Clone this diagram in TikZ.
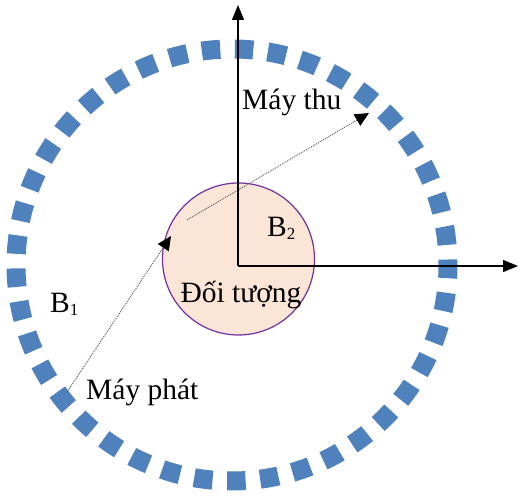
\documentclass[tikz,border=0pt]{standalone}
\usepackage{fontspec}
\setmainfont{Liberation Serif}
\usetikzlibrary{arrows.meta}
\definecolor{ringblue}{HTML}{4F81BD}
\definecolor{peach}{HTML}{FBE5D6}
\definecolor{objpurple}{HTML}{7030A0}
\tikzset{
  lbl/.style={inner sep=0pt, anchor=base west, font=\fontsize{29.5}{32}\selectfont},
  axis/.style={line width=1.3pt, -{Triangle[length=15pt,width=12pt]}},
  ray/.style={gray!80!black, line width=1pt, dash pattern=on 1pt off 1pt, -{Triangle[length=14pt,width=13pt,color=black]}},
  ring/.style={ringblue, line width=19pt, dash pattern=on 18.5pt off 14.6pt, dash phase=13pt}
}
\newcommand{\sbs}[1]{\raisebox{-0.08em}{\fontsize{17}{18}\selectfont #1}}
\begin{document}
\begin{tikzpicture}[x=1pt,y=1pt]
\useasboundingbox (0,0) rectangle (519,495);
% outer ring
\coordinate (C) at (232,230);
\draw[ring] (C) circle (216);
% object
\node[circle, draw=objpurple, line width=1.2pt, fill=peach, minimum size=152pt, inner sep=0pt] (obj) at (238.5,236) {};
% rays
\coordinate (tx) at (67,103);
\coordinate (hit) at (171,259);
\coordinate (rs) at (187,275);
\coordinate (rx) at (369,382);
\draw[ray] (tx) -- (hit);
\draw[ray] (rs) -- (rx);
% axes
\coordinate (O) at (238,229);
\coordinate (Yend) at (238,490);
\coordinate (Xend) at (518,229);
\draw[axis] (O) -- (Yend);
\draw[axis] (O) -- (Xend);
% labels
\node[lbl] (thu) at (242,385) {Máy thu};
\node[lbl] (phat) at (86,95) {Máy phát};
\node[lbl, anchor=base] (dt) at (241,192) {Đối tượng};
\node[lbl] (b2) at (267,258) {B\sbs{2}};
\node[lbl] (b1) at (50,182) {B\sbs{1}};
\end{tikzpicture}
\end{document}
